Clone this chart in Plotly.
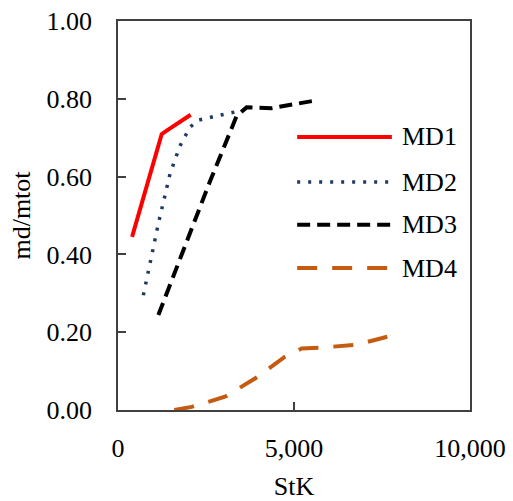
import plotly.graph_objects as go

# Data
md1_x = [400, 1241, 1383, 2065]
md1_y = [0.445, 0.709, 0.718, 0.759]

md2_x = [720, 957, 1146, 1477, 1761, 2045, 2282, 2803, 3371]
md2_y = [0.295, 0.402, 0.479, 0.607, 0.679, 0.727, 0.745, 0.756, 0.767]

md3_x = [1146, 2614, 3371, 3655, 4366, 5691]
md3_y = [0.244, 0.588, 0.756, 0.778, 0.776, 0.797]

md4_x = [1600, 2093, 3040, 3892, 4744, 5218, 5739, 6781, 7727]
md4_y = [0.0, 0.008, 0.034, 0.081, 0.137, 0.158, 0.160, 0.168, 0.190]

names = ["MD1", "MD2", "MD3", "MD4"]
colors = ["#FF0000", "#1F3864", "#000000", "#C55A11"]
dashes = ["solid", "3px,8px", "13px,7px", "20px,15px"]

x_ticks = [0, 5000, 10000]
x_tick_labels = ["0", "5,000", "10,000"]
y_ticks = [0, 0.2, 0.4, 0.6, 0.8, 1.0]
y_tick_labels = ["0.00", "0.20", "0.40", "0.60", "0.80", "1.00"]

FONT = "Liberation Serif, Times New Roman, serif"
FS = 26

fig = go.Figure()
series = [(md1_x, md1_y), (md2_x, md2_y), (md3_x, md3_y), (md4_x, md4_y)]
for (xs, ys), n, c, d in zip(series, names, colors, dashes):
    fig.add_trace(go.Scatter(x=xs, y=ys, name=n, mode="lines",
                             line=dict(color=c, width=4 if n != "MD2" else 3.5, dash=d),
                             showlegend=False))

# Custom legend (long sample lines like the reference)
leg_y = [0.702, 0.586, 0.476, 0.365]
for n, c, d, yy in zip(names, colors, dashes, leg_y):
    fig.add_shape(type="line", xref="paper", yref="paper",
                  x0=0.509, x1=0.778, y0=yy, y1=yy,
                  line=dict(color=c, width=4 if n != "MD2" else 3.5, dash=d))
    fig.add_annotation(xref="paper", yref="paper", x=0.80, y=yy, text=n,
                       showarrow=False, xanchor="left", yanchor="middle",
                       font=dict(family=FONT, size=FS, color="#000000"))

axis_common = dict(showline=True, linecolor="#404040", linewidth=1.5, mirror=True,
                   showgrid=False, zeroline=False, ticks="inside", ticklen=8,
                   tickcolor="#404040", tickwidth=1.5, automargin=False,
                   tickfont=dict(family=FONT, size=FS, color="#000000"))

fig.update_xaxes(range=[0, 10000], tickvals=x_ticks, ticktext=x_tick_labels,
                 title=dict(text="StK", font=dict(family=FONT, size=FS, color="#000000"), standoff=20),
                 ticklabelstandoff=14, **axis_common)
fig.update_yaxes(range=[0, 1.0], tickvals=y_ticks, ticktext=y_tick_labels,
                 title=dict(text="md/mtot", font=dict(family=FONT, size=FS, color="#000000"), standoff=8),
                 ticklabelstandoff=19, **axis_common)

fig.update_layout(width=513, height=501, margin=dict(l=118, r=43, t=21, b=91),
                  paper_bgcolor="white", plot_bgcolor="white", showlegend=False)

fig.write_html("out.html")
